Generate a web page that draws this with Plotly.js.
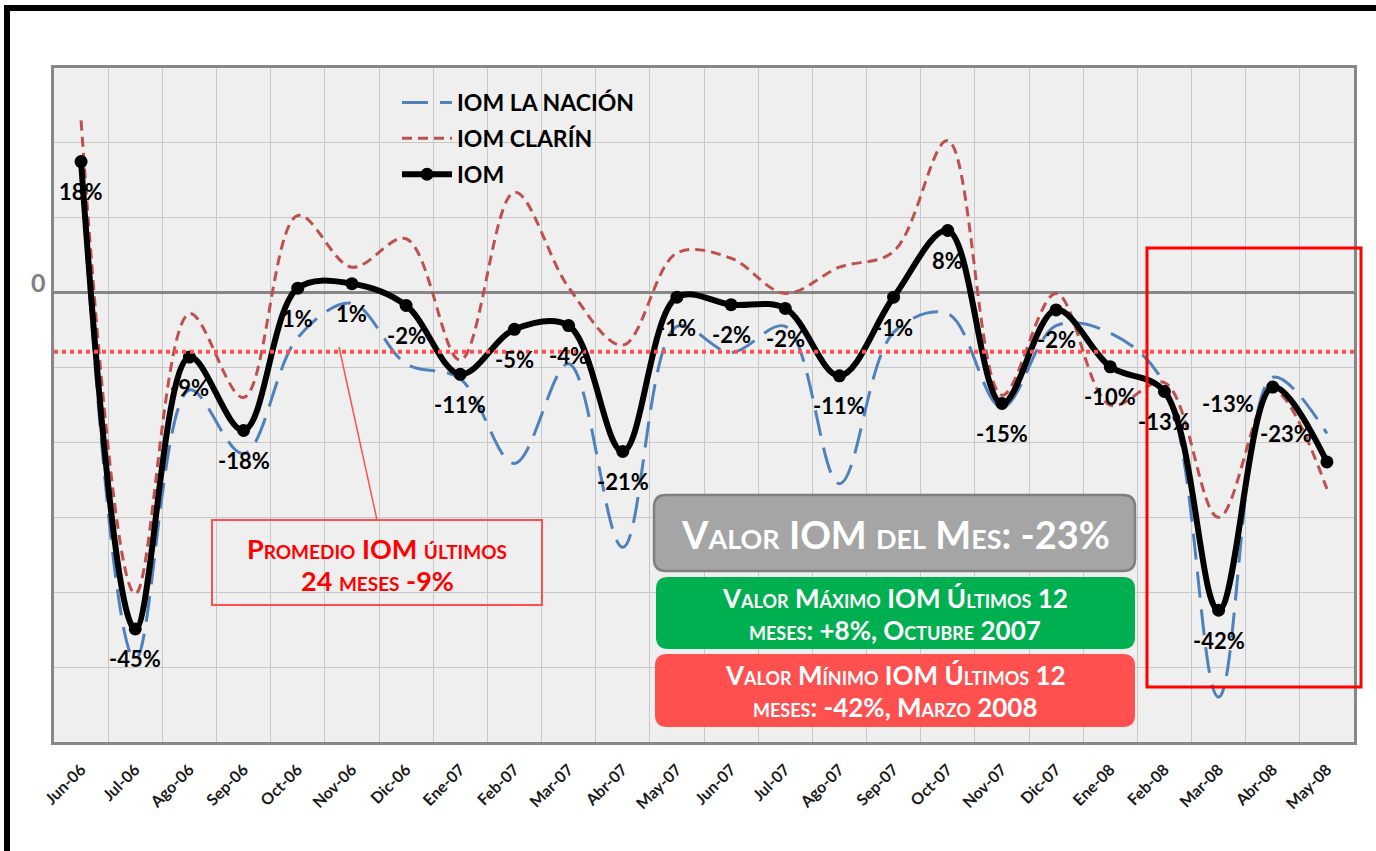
<!DOCTYPE html>
<html><head><meta charset="utf-8">
<script src="https://cdn.plot.ly/plotly-3.0.1.min.js"></script>
<style>html,body{margin:0;padding:0;background:#fff;}#chart{width:1376px;height:851px;}</style>
</head><body><div id="chart"></div>
<script>
// ---- data ----
const months = ['Jun-06','Jul-06','Ago-06','Sep-06','Oct-06','Nov-06','Dic-06','Ene-07','Feb-07','Mar-07','Abr-07','May-07','Jun-07','Jul-07','Ago-07','Sep-07','Oct-07','Nov-07','Dic-07','Ene-08','Feb-08','Mar-08','Abr-08','May-08'];
const iom = [17.5,-44.9,-8.6,-18.4,0.6,1.2,-1.7,-10.9,-4.9,-4.4,-21.2,-0.6,-1.6,-2.1,-11.1,-0.6,8.3,-14.8,-2.3,-9.9,-13.2,-42.4,-12.6,-22.6];
const iomLaNacion = [16,-49,-13,-21.5,-6,-1.4,-9.5,-11.5,-22.8,-9.5,-34,-4.5,-8,-4.5,-25.5,-5.3,-2.8,-15.3,-4.4,-5.4,-12.2,-54,-11.3,-18.8];
const iomClarin = [23,-40.2,-2.8,-14,10.3,3.4,7.2,-9,13.4,0.7,-7,5.3,4.6,-0.1,3.4,5.5,20.3,-13.7,-0.1,-15,-12,-30,-13,-26.2];
const seriesNames = ['IOM LA NACIÓN','IOM CLARÍN','IOM'];
const avgLine = -7.9;
const yTicks = [-60,-50,-40,-30,-20,-10,0,10,20,30];
const avgText = ['Promedio IOM últimos','24 meses -9%'];
const mesText = 'Valor IOM del Mes: -23%';
const maxText = ['Valor Máximo IOM Últimos 12','meses: +8%, Octubre 2007'];
const minText = ['Valor Mínimo IOM Últimos 12','meses: -42%, Marzo 2008'];

// ---- layout helpers ----
const L=54, R=1354, T=68, B=742;
const X = px => (px-L)/(R-L);
const Y = py => (B-py)/(B-T);
const FONT = 'Lato, "Open Sans", sans-serif';
function rrect(x0,y0,x1,y1,r){
  return 'M'+X(x0+r)+','+Y(y0)+' L'+X(x1-r)+','+Y(y0)+' Q'+X(x1)+','+Y(y0)+' '+X(x1)+','+Y(y0+r)+
    ' L'+X(x1)+','+Y(y1-r)+' Q'+X(x1)+','+Y(y1)+' '+X(x1-r)+','+Y(y1)+
    ' L'+X(x0+r)+','+Y(y1)+' Q'+X(x0)+','+Y(y1)+' '+X(x0)+','+Y(y1-r)+
    ' L'+X(x0)+','+Y(y0+r)+' Q'+X(x0)+','+Y(y0)+' '+X(x0+r)+','+Y(y0)+' Z';
}
function boxText(text, px, py, size, color){
  return {x:X(px), y:Y(py), xref:'paper', yref:'paper', xanchor:'center', yanchor:'middle', showarrow:false,
    text:text, font:{family:FONT, size:size, color:color, weight:'bold', variant:'small-caps'}};
}

const traces = [
  {x:months, y:iomLaNacion, name:seriesNames[0], legendgroup:'a', mode:'lines', hoverinfo:'skip',
   line:{color:'#4f81bd', width:3, dash:'26px,12px', shape:'spline', smoothing:1}},
  {x:months, y:iomClarin, name:seriesNames[1], legendgroup:'b', mode:'lines', hoverinfo:'skip',
   line:{color:'#c0504d', width:3, dash:'10px,6px', shape:'spline', smoothing:1}},
  {x:months, y:iom, name:seriesNames[2], legendgroup:'c', mode:'lines+markers', hoverinfo:'skip',
   line:{color:'#000', width:6, shape:'spline', smoothing:1}, marker:{size:13, color:'#000'}}
];

// data labels for IOM
const labelShift = {'Abr-08':[-45,-16], 'May-08':[-41,28]};
const annotations = months.map((m,i) => {
  const s = labelShift[m] || [0,-30];
  return {x:m, y:iom[i], xref:'x', yref:'y', text:Math.round(iom[i])+'%', showarrow:false,
    xanchor:'center', yanchor:'middle', xshift:s[0], yshift:s[1],
    font:{family:FONT, size:22, color:'#000', weight:'bold'}};
});
annotations.push({x:X(38), y:0, xref:'paper', yref:'y', xanchor:'center', yanchor:'middle', yshift:11,
  text:'0', showarrow:false, font:{family:FONT, size:25, color:'#7f7f7f', weight:'bold'}});
annotations.push(boxText(avgText[0], 377, 548, 27, '#ff0000'));
annotations.push(boxText(avgText[1], 377, 580, 27, '#ff0000'));
annotations.push(boxText(mesText, 895, 534, 38, '#ffffff'));
annotations.push(boxText(maxText[0], 895, 598, 26, '#ffffff'));
annotations.push(boxText(maxText[1], 895, 630, 26, '#ffffff'));
annotations.push(boxText(minText[0], 895, 675, 26, '#ffffff'));
annotations.push(boxText(minText[1], 895, 707, 26, '#ffffff'));

const shapes = [
  {type:'line', xref:'paper', yref:'y', x0:X(54), x1:X(1354), y0:avgLine, y1:avgLine, layer:'above',
   line:{color:'#ff5050', width:4, dash:'dot'}},
  {type:'line', xref:'paper', yref:'paper', x0:X(339), y0:Y(347), x1:X(377), y1:Y(520), layer:'above',
   line:{color:'#ff5050', width:1.5}},
  {type:'rect', xref:'paper', yref:'paper', x0:X(212), y0:Y(520), x1:X(542), y1:Y(605), layer:'above',
   line:{color:'#ff5050', width:2}},
  {type:'path', xref:'paper', yref:'paper', path:rrect(654,495,1135,571,12), layer:'above',
   fillcolor:'#a5a5a5', line:{color:'#7f7f7f', width:2.5}},
  {type:'path', xref:'paper', yref:'paper', path:rrect(656,577,1135,649,12), layer:'above',
   fillcolor:'#00b050', line:{width:0}},
  {type:'path', xref:'paper', yref:'paper', path:rrect(655,654,1135,727,12), layer:'above',
   fillcolor:'#ff5050', line:{width:0}},
  {type:'rect', xref:'paper', yref:'paper', x0:X(1147), y0:Y(248), x1:X(1361), y1:Y(687), layer:'above',
   line:{color:'#ff0000', width:3}},
  {type:'rect', xref:'paper', yref:'paper', x0:X(7), y0:Y(8), x1:X(1420), y1:Y(900), layer:'above',
   line:{color:'#000', width:6}}
];

const layout = {
  width:1376, height:851, margin:{l:L, r:1376-R, t:T, b:851-B, pad:0},
  paper_bgcolor:'#ffffff', plot_bgcolor:'#efefef', showlegend:true,
  legend:{x:X(397), y:Y(81), xanchor:'left', yanchor:'top', bgcolor:'rgba(0,0,0,0)', traceorder:'grouped',
    tracegroupgap:3, itemwidth:50, font:{family:FONT, size:23, color:'#000', weight:'bold'}},
  xaxis:{type:'category', range:[-0.5,23.5], autorange:false, tickson:'boundaries', showgrid:true,
    gridcolor:'#c8c8c8', gridwidth:1, showline:true, linecolor:'#878787', linewidth:3, mirror:true,
    ticks:'', tickangle:-45, zeroline:false, ticklabelstandoff:9,
    tickfont:{family:FONT, size:16, color:'#1a1a1a', weight:'bold'}, fixedrange:true},
  yaxis:{range:[-60,30], autorange:false, tickvals:yTicks, showticklabels:false, showgrid:true, gridcolor:'#c8c8c8', gridwidth:1,
    zeroline:true, zerolinecolor:'#878787', zerolinewidth:3, showline:true, linecolor:'#878787', linewidth:3,
    mirror:true, ticks:'', fixedrange:true},
  annotations:annotations, shapes:shapes, hovermode:false
};
Plotly.newPlot('chart', traces, layout, {displayModeBar:false, staticPlot:true});
</script></body></html>
